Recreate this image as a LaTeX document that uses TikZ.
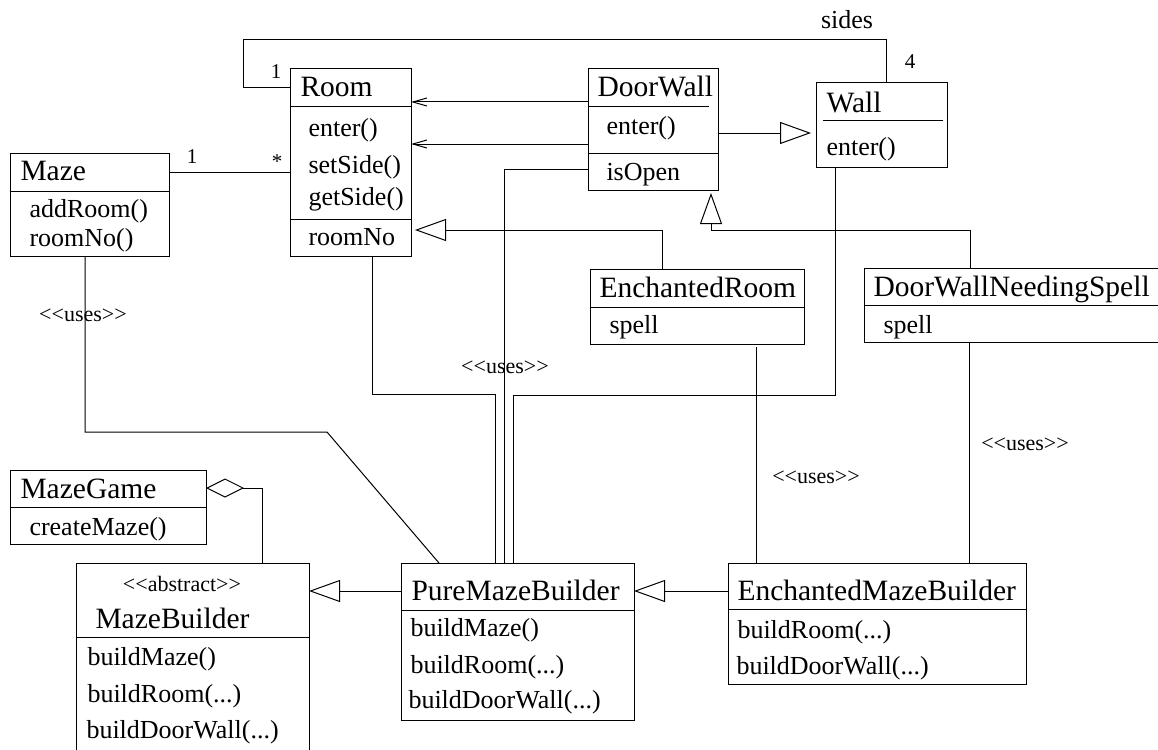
\documentclass[tikz,border=0pt]{standalone}
\usepackage{fontspec}
\setmainfont{Liberation Serif}
\usetikzlibrary{arrows.meta,calc}

\tikzset{
  classbox/.style={draw, anchor=north west, inner sep=0pt, outer sep=0pt},
  title/.style={anchor=base west, inner sep=0pt, font=\fontsize{29.5}{30}\selectfont},
  member/.style={anchor=base west, inner sep=0pt, font=\fontsize{26}{27}\selectfont},
  stereo/.style={anchor=base, inner sep=0pt, font=\fontsize{22}{23}\selectfont},
  mult/.style={anchor=base, inner sep=0pt, font=\fontsize{21}{22}\selectfont},
  inherit/.style={-{Triangle[open, length=31pt, width=22pt]}},
  navig/.style={-{Straight Barb[length=14pt, width=8pt]}},
  aggr/.style={{Diamond[open, length=38pt, width=19pt]}-},
}

\begin{document}
\begin{tikzpicture}[x=1pt, y=-1pt, line width=1pt]
    \useasboundingbox (0,0) rectangle (1158,749);
    \clip (0,0) rectangle (1158,749);

    % classes
    \node[classbox, minimum width=159pt, minimum height=103pt] (maze) at (10,153) {};
    \draw ($(maze.north west)+(0,38)$) -- ++(159,0);
    \node[title] (mazet) at (20,180) {Maze};
    \node[member] (mazea) at (29,217) {addRoom()};
    \node[member] (mazeb) at (29,246) {roomNo()};

    \node[classbox, minimum width=121pt, minimum height=187pt] (room) at (290,69) {};
    \draw ($(room.north west)+(0,38)$) -- ++(121,0);
    \draw ($(room.north west)+(0,150)$) -- ++(121,0);
    \node[title] (roomt) at (300,97) {Room};
    \node[member] (rooma) at (308,136) {enter()};
    \node[member] (roomb) at (308,173) {setSide()};
    \node[member] (roomc) at (308,205) {getSide()};
    \node[member] (roomd) at (308,245) {roomNo};

    \node[classbox, minimum width=130pt, minimum height=121pt] (doorwall) at (588,69) {};
    \draw ($(doorwall.north west)+(1,38)$) -- ++(120,0);
    \draw ($(doorwall.north west)+(0,84)$) -- ++(130,0);
    \node[title] (doorwallt) at (597,97) {DoorWall};
    \node[member] (doorwalla) at (606,135) {enter()};
    \node[member] (doorwallb) at (606,180) {isOpen};

    \node[classbox, minimum width=131pt, minimum height=84pt] (wall) at (816,83) {};
    \draw ($(wall.north west)+(7,38)$) -- ++(120,0);
    \node[title] (wallt) at (826,113) {Wall};
    \node[member] (walla) at (826,155) {enter()};

    \node[classbox, minimum width=214pt, minimum height=75pt] (enchroom) at (590,269) {};
    \draw ($(enchroom.north west)+(0,38)$) -- ++(214,0);
    \node[title] (enchroomt) at (599,297) {EnchantedRoom};
    \node[member] (enchrooma) at (609,333) {spell};

    \node[classbox, minimum width=300pt, minimum height=74pt] (dwns) at (864,268) {};
    \draw ($(dwns.north west)+(0,37)$) -- ++(300,0);
    \node[title] (dwnst) at (873,296) {DoorWallNeedingSpell};
    \node[member] (dwnsa) at (883,333) {spell};

    \node[classbox, minimum width=196pt, minimum height=74pt] (mazegame) at (10,470) {};
    \draw ($(mazegame.north west)+(0,37)$) -- ++(196,0);
    \node[title] (mazegamet) at (20,498) {MazeGame};
    \node[member] (mazegamea) at (29,535) {createMaze()};

    \node[classbox, minimum width=233pt, minimum height=200pt] (mazebuilder) at (76,563) {};
    \draw ($(mazebuilder.north west)+(0,74)$) -- ++(233,0);
    \node[stereo] (mazebuilders) at (182,591) {<\kern0pt<abstract>\kern0pt>};
    \node[title] (mazebuildert) at (95,628) {MazeBuilder};
    \node[member] (mazebuildera) at (87,665) {buildMaze()};
    \node[member] (mazebuilderb) at (87,702) {buildRoom(...)};
    \node[member] (mazebuilderc) at (86,738) {buildDoorWall(...)};

    \node[classbox, minimum width=233pt, minimum height=157pt] (pmb) at (401,563) {};
    \draw ($(pmb.north west)+(0,47)$) -- ++(233,0);
    \node[title] (pmbt) at (411,600) {PureMazeBuilder};
    \node[member] (pmba) at (410,636) {buildMaze()};
    \node[member] (pmbb) at (410,673) {buildRoom(...)};
    \node[member] (pmbc) at (408,708) {buildDoorWall(...)};

    \node[classbox, minimum width=298pt, minimum height=121pt] (emb) at (728,563) {};
    \draw ($(emb.north west)+(0,46)$) -- ++(298,0);
    \node[title] (embt) at (737,600) {EnchantedMazeBuilder};
    \node[member] (emba) at (737,638) {buildRoom(...)};
    \node[member] (embb) at (736,674) {buildDoorWall(...)};

    % associations
    \draw ($(room.north west)+(0,19)$) -| (243,40) -| ($(wall.north west)+(70,0)$);
    \node[mult] (roomone) at (276,79) {1};
    \node[member, anchor=base] (sides) at (847,29) {sides};
    \node[mult] (wallfour) at (910,69) {4};

    \draw ($(maze.north east)+(0,19)$) -- ($(room.north west)+(0,103)$);
    \node[mult] (mazeone) at (192,163) {1};
    \node[mult] (roomstar) at (277,168) {*};

    \draw[navig] ($(doorwall.north west)+(0,33)$) -- ($(room.north east)+(0,33)$);
    \draw[navig] ($(doorwall.north west)+(0,75)$) -- ($(room.north east)+(0,75)$);

    % generalizations
    \draw[inherit, shorten >=4pt] ($(enchroom.north west)+(72,0)$) |- ($(room.north east)+(0,161)$);
    \draw[inherit, shorten >=3pt] ($(dwns.north west)+(106,0)$) |- (711,230) -- ($(doorwall.south west)+(123,0)$);
    \draw[inherit, shorten >=5pt] ($(doorwall.north east)+(0,64)$) -- ($(wall.north west)+(0,50)$);
    \draw[inherit] ($(pmb.north west)+(0,28)$) -- ($(mazebuilder.north east)+(0,28)$);
    \draw[inherit] ($(emb.north west)+(0,28)$) -- ($(pmb.north east)+(0,28)$);

    \draw[aggr] ($(mazegame.north east)+(0,18)$) -| ($(mazebuilder.north west)+(186,0)$);

    % uses
    \draw ($(maze.south west)+(75,0)$) |- (327,432) -- ($(pmb.north west)+(38,0)$);
    \draw ($(room.south west)+(82,0)$) |- (495,394) -- ($(pmb.north west)+(94,0)$);
    \draw ($(doorwall.north west)+(0,100)$) -| ($(pmb.north west)+(103,0)$);
    \draw ($(wall.south west)+(19,0)$) |- (513,395) -- ($(pmb.north west)+(112,0)$);
    \draw ($(enchroom.south west)+(166,3)$) -- ($(emb.north west)+(28,0)$);
    \draw ($(dwns.south west)+(105,0)$) -- ($(emb.north west)+(241,0)$);
    \node[stereo] (usesa) at (83,321) {<\kern0pt<uses>\kern0pt>};
    \node[stereo] (usesb) at (505,373) {<\kern0pt<uses>\kern0pt>};
    \node[stereo] (usesc) at (816,483) {<\kern0pt<uses>\kern0pt>};
    \node[stereo] (usesd) at (1025,450) {<\kern0pt<uses>\kern0pt>};
\end{tikzpicture}
\end{document}
